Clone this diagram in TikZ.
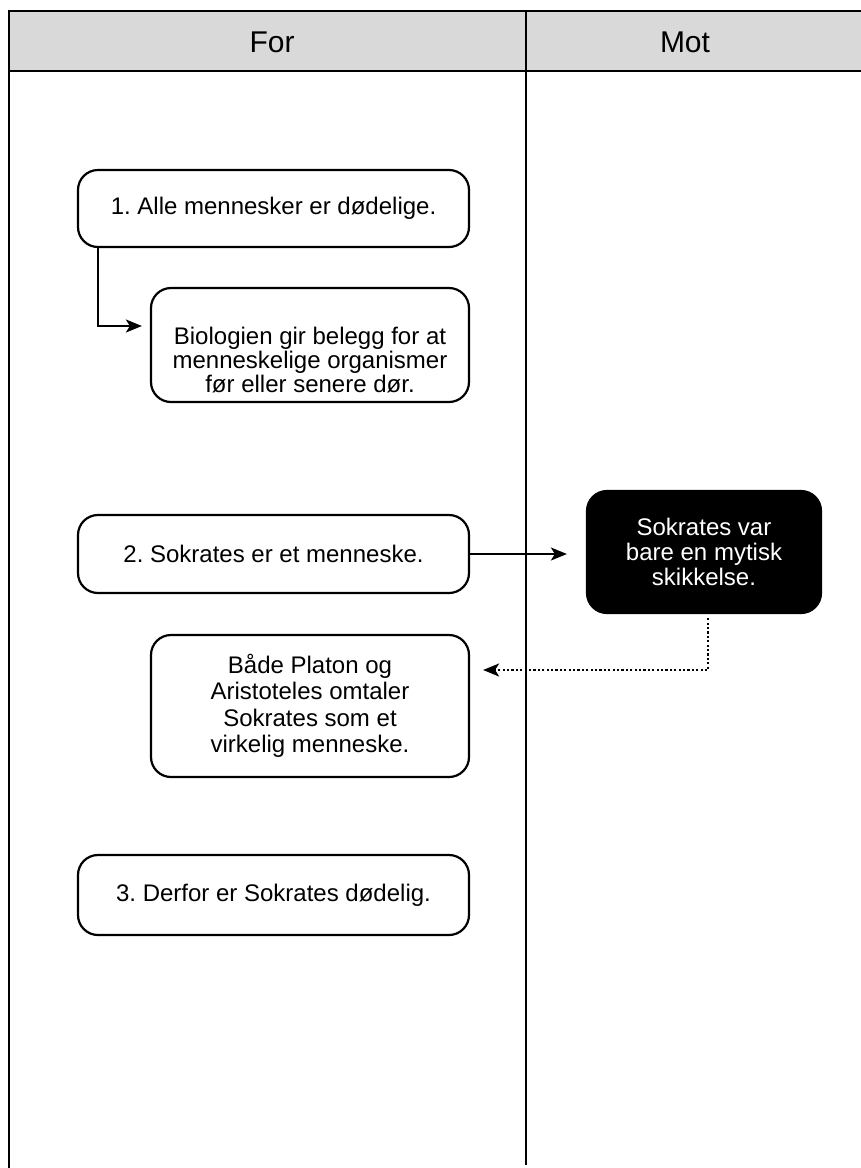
\documentclass[tikz,border=0pt]{standalone}
\usepackage{fontspec}
\setmainfont{Liberation Sans}
\usetikzlibrary{arrows.meta}
\definecolor{headgray}{RGB}{217,217,217}
\frenchspacing
\begin{document}
\begin{tikzpicture}[x=1pt,y=-1pt,
  lane/.style={line width=2.2pt},
  headtext/.style={font=\fontsize{30}{34}\selectfont},
  box/.style={draw, line width=2.2pt, rounded corners=20pt, align=center,
    font=\fontsize{24}{25.5}\selectfont, inner sep=0pt},
  darkbox/.style={box, fill=black, text=white},
  conn/.style={line width=2.2pt, -{Stealth[length=16pt,width=13pt,inset=4pt]}},
  dotconn/.style={conn, dash pattern=on 2.2pt off 2.2pt}]
\useasboundingbox (0,0) rectangle (861,1168);
\fill[white] (0,0) rectangle (861,1168);
% lanes
\fill[headgray] (9,11) rectangle (866,71);
\draw[lane] (866,11) -- (9,11) -- (9,1172);
\draw[lane] (9,71) -- (866,71);
\draw[lane] (526,11) -- (526,1165);
\node[headtext] (hfor) at (272,42) {For};
\node[headtext] (hmot) at (685,42) {Mot};
% nodes
\node[box, minimum width=391pt, minimum height=77pt] (n1) at (273.5,208.5) {1. Alle mennesker er dødelige.};
\node[box, minimum width=318pt, minimum height=114pt, font=\fontsize{24}{24}\selectfont] (bio) at (310,345) {\rule{0pt}{47pt}Biologien gir belegg for at\\menneskelige organismer\\før eller senere dør.};
\node[box, minimum width=391pt, minimum height=78pt] (n2) at (273.5,554) {2. Sokrates er et menneske.};
\node[darkbox, minimum width=234pt, minimum height=122pt, font=\fontsize{24}{25}\selectfont] (myth) at (704,552) {Sokrates var\\bare en mytisk\\skikkelse.};
\node[box, minimum width=318pt, minimum height=142pt, font=\fontsize{24}{26.5}\selectfont] (plat) at (310,706) {Både Platon og\\Aristoteles omtaler\\Sokrates som et\\virkelig menneske.};
\node[box, minimum width=391pt, minimum height=80pt] (n3) at (273.5,895) {3. Derfor er Sokrates dødelig.};
% connectors
\draw[conn, shorten >=8pt] ([xshift=21pt]n1.south west) |- ([yshift=19pt]bio.west);
\draw[conn, shorten >=19pt] (n2.east) -- (myth.west |- n2.east);
\draw[dotconn, shorten <=4pt, shorten >=13pt] ([xshift=4pt]myth.south) |- ([yshift=36pt]plat.east);
\end{tikzpicture}
\end{document}
